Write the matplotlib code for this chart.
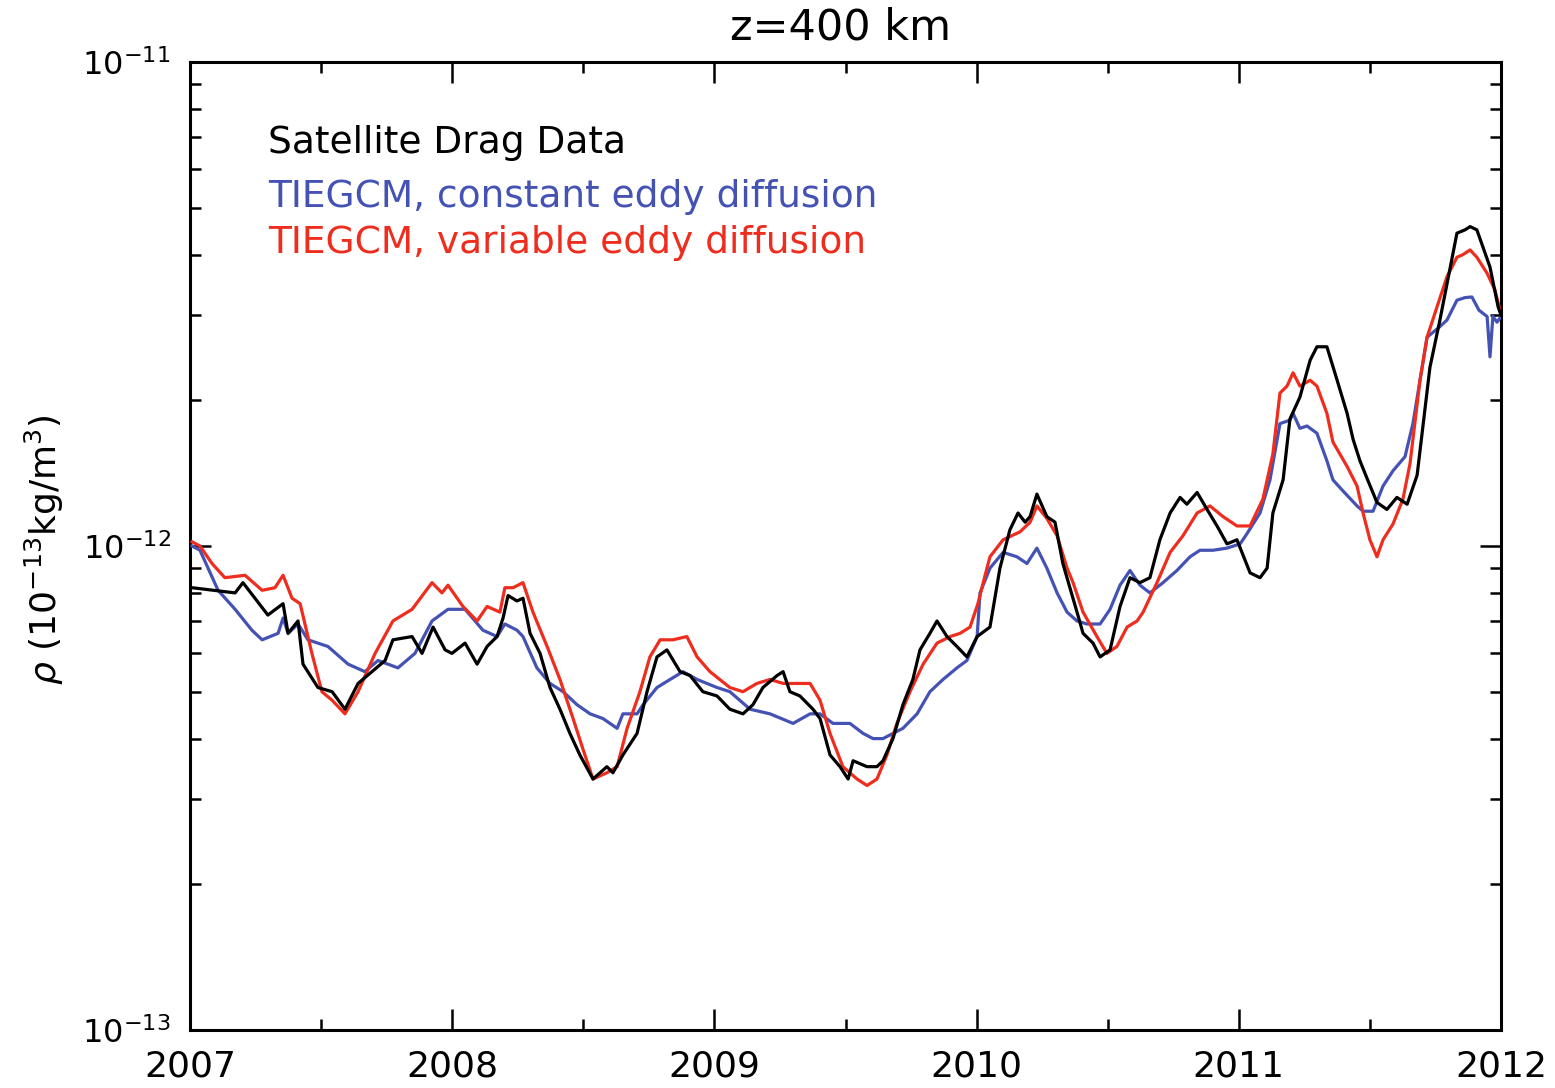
import matplotlib
matplotlib.use("Agg")
import matplotlib.pyplot as plt
from matplotlib.ticker import FixedLocator, MultipleLocator, LogFormatterSciNotation, NullFormatter

# ---- data ----
black_t = [2007.008, 2007.172, 2007.202, 2007.297, 2007.355, 2007.374, 2007.412, 2007.431, 2007.488,
           2007.542, 2007.591, 2007.641, 2007.694, 2007.744, 2007.774, 2007.847, 2007.885, 2007.927,
           2007.973, 2007.999, 2008.049, 2008.095, 2008.133, 2008.171, 2008.194, 2008.213, 2008.247,
           2008.270, 2008.297, 2008.335, 2008.373, 2008.411, 2008.449, 2008.487, 2008.537, 2008.590,
           2008.613, 2008.651, 2008.705, 2008.743, 2008.781, 2008.819, 2008.869, 2008.907, 2008.956,
           2009.010, 2009.059, 2009.109, 2009.147, 2009.185, 2009.239, 2009.262, 2009.288, 2009.326,
           2009.376, 2009.403, 2009.441, 2009.479, 2009.510, 2009.529, 2009.582, 2009.620, 2009.643,
           2009.681, 2009.719, 2009.757, 2009.784, 2009.822, 2009.849, 2009.887, 2009.925, 2009.963,
           2010.002, 2010.051, 2010.089, 2010.127, 2010.158, 2010.185, 2010.204, 2010.230, 2010.268,
           2010.299, 2010.329, 2010.356, 2010.383, 2010.406, 2010.444, 2010.471, 2010.509, 2010.547,
           2010.585, 2010.623, 2010.661, 2010.699, 2010.738, 2010.776, 2010.802, 2010.841, 2010.879,
           2010.917, 2010.955, 2010.993, 2011.043, 2011.081, 2011.108, 2011.130, 2011.169, 2011.195,
           2011.233, 2011.272, 2011.298, 2011.336, 2011.375, 2011.413, 2011.436, 2011.462, 2011.489,
           2011.527, 2011.565, 2011.603, 2011.642, 2011.680, 2011.729, 2011.767, 2011.832, 2011.863,
           2011.882, 2011.908, 2011.931, 2011.958, 2011.989, 2012.000]
black_v = [0.82, 0.80, 0.84, 0.72, 0.76, 0.66, 0.70, 0.57, 0.51,
           0.50, 0.46, 0.52, 0.55, 0.58, 0.64, 0.65, 0.60, 0.68,
           0.61, 0.60, 0.63, 0.57, 0.62, 0.65, 0.71, 0.79, 0.77,
           0.78, 0.66, 0.60, 0.51, 0.46, 0.41, 0.37, 0.33, 0.35,
           0.34, 0.37, 0.41, 0.50, 0.59, 0.61, 0.55, 0.54, 0.50,
           0.49, 0.46, 0.45, 0.47, 0.51, 0.54, 0.55, 0.50, 0.49,
           0.46, 0.44, 0.37, 0.35, 0.33, 0.36, 0.35, 0.35, 0.36,
           0.40, 0.47, 0.53, 0.61, 0.66, 0.70, 0.65, 0.62, 0.59,
           0.65, 0.68, 0.90, 1.08, 1.17, 1.12, 1.15, 1.28, 1.15,
           1.12, 0.92, 0.82, 0.73, 0.66, 0.63, 0.59, 0.61, 0.75,
           0.86, 0.84, 0.86, 1.03, 1.17, 1.26, 1.22, 1.29, 1.19,
           1.10, 1.01, 1.03, 0.88, 0.86, 0.90, 1.17, 1.37, 1.83,
           2.03, 2.42, 2.58, 2.58, 2.20, 1.88, 1.66, 1.50, 1.38,
           1.23, 1.19, 1.26, 1.22, 1.40, 2.34, 2.93, 4.43, 4.50,
           4.57, 4.50, 4.15, 3.77, 3.12, 3.00]

red_t = [2007.008, 2007.038, 2007.084, 2007.133, 2007.210, 2007.275, 2007.324, 2007.355, 2007.389,
         2007.420, 2007.465, 2007.503, 2007.542, 2007.591, 2007.641, 2007.706, 2007.774, 2007.847,
         2007.923, 2007.961, 2007.984, 2008.041, 2008.095, 2008.133, 2008.182, 2008.201, 2008.232,
         2008.270, 2008.308, 2008.362, 2008.411, 2008.461, 2008.499, 2008.537, 2008.590, 2008.629,
         2008.667, 2008.716, 2008.754, 2008.793, 2008.842, 2008.895, 2008.934, 2008.983, 2009.059,
         2009.109, 2009.162, 2009.212, 2009.262, 2009.315, 2009.365, 2009.403, 2009.441, 2009.490,
         2009.544, 2009.582, 2009.620, 2009.658, 2009.696, 2009.746, 2009.796, 2009.849, 2009.899,
         2009.937, 2009.975, 2010.005, 2010.030, 2010.051, 2010.101, 2010.166, 2010.204, 2010.230,
         2010.268, 2010.307, 2010.345, 2010.368, 2010.406, 2010.459, 2010.497, 2010.535, 2010.574,
         2010.612, 2010.635, 2010.688, 2010.738, 2010.787, 2010.841, 2010.890, 2010.940, 2010.993,
         2011.043, 2011.092, 2011.130, 2011.157, 2011.184, 2011.207, 2011.233, 2011.272, 2011.298,
         2011.336, 2011.359, 2011.413, 2011.451, 2011.474, 2011.500, 2011.527, 2011.550, 2011.588,
         2011.626, 2011.653, 2011.691, 2011.718, 2011.756, 2011.794, 2011.832, 2011.855, 2011.882,
         2011.908, 2011.947, 2011.977, 2011.996]
red_v = [1.02, 1.00, 0.92, 0.86, 0.87, 0.81, 0.82, 0.87, 0.78,
         0.76, 0.60, 0.50, 0.48, 0.45, 0.50, 0.60, 0.70, 0.74,
         0.84, 0.80, 0.83, 0.75, 0.70, 0.75, 0.73, 0.82, 0.82,
         0.84, 0.73, 0.62, 0.53, 0.44, 0.38, 0.33, 0.34, 0.35,
         0.42, 0.50, 0.59, 0.64, 0.64, 0.65, 0.59, 0.55, 0.51,
         0.50, 0.52, 0.53, 0.52, 0.52, 0.52, 0.48, 0.41, 0.35,
         0.33, 0.32, 0.33, 0.37, 0.43, 0.50, 0.57, 0.63, 0.65,
         0.66, 0.68, 0.76, 0.86, 0.95, 1.03, 1.07, 1.12, 1.21,
         1.14, 1.05, 0.90, 0.84, 0.73, 0.65, 0.60, 0.62, 0.68,
         0.70, 0.73, 0.84, 0.97, 1.05, 1.17, 1.21, 1.15, 1.10,
         1.10, 1.25, 1.55, 2.07, 2.14, 2.28, 2.14, 2.20, 2.14,
         1.88, 1.64, 1.46, 1.33, 1.17, 1.03, 0.95, 1.03, 1.11,
         1.25, 1.48, 2.20, 2.70, 3.12, 3.60, 3.95, 4.00, 4.09,
         3.95, 3.66, 3.38, 3.07]

blue_t = [2007.008, 2007.038, 2007.107, 2007.172, 2007.236, 2007.275, 2007.336, 2007.355, 2007.374,
          2007.412, 2007.450, 2007.526, 2007.603, 2007.667, 2007.717, 2007.793, 2007.858, 2007.923,
          2007.984, 2008.049, 2008.117, 2008.171, 2008.201, 2008.247, 2008.270, 2008.323, 2008.373,
          2008.423, 2008.476, 2008.526, 2008.575, 2008.629, 2008.651, 2008.705, 2008.728, 2008.781,
          2008.831, 2008.880, 2008.934, 2009.010, 2009.059, 2009.136, 2009.212, 2009.300, 2009.365,
          2009.403, 2009.452, 2009.517, 2009.567, 2009.605, 2009.643, 2009.681, 2009.719, 2009.773,
          2009.822, 2009.872, 2009.925, 2009.963, 2010.002, 2010.013, 2010.051, 2010.101, 2010.154,
          2010.192, 2010.230, 2010.268, 2010.307, 2010.345, 2010.383, 2010.421, 2010.471, 2010.509,
          2010.547, 2010.585, 2010.623, 2010.661, 2010.711, 2010.764, 2010.814, 2010.852, 2010.902,
          2010.955, 2011.005, 2011.031, 2011.081, 2011.119, 2011.157, 2011.195, 2011.207, 2011.233,
          2011.260, 2011.298, 2011.336, 2011.359, 2011.397, 2011.451, 2011.474, 2011.512, 2011.550,
          2011.588, 2011.634, 2011.664, 2011.718, 2011.767, 2011.794, 2011.832, 2011.863, 2011.889,
          2011.916, 2011.947, 2011.958, 2011.969, 2011.985, 2012.000]
blue_v = [1.00, 0.98, 0.81, 0.74, 0.67, 0.64, 0.66, 0.71, 0.66,
          0.69, 0.64, 0.62, 0.57, 0.55, 0.58, 0.56, 0.60, 0.70,
          0.74, 0.74, 0.67, 0.65, 0.69, 0.67, 0.65, 0.56, 0.52,
          0.50, 0.47, 0.45, 0.44, 0.42, 0.45, 0.45, 0.47, 0.51,
          0.53, 0.55, 0.53, 0.51, 0.50, 0.46, 0.45, 0.43, 0.45,
          0.45, 0.43, 0.43, 0.41, 0.40, 0.40, 0.41, 0.42, 0.45,
          0.50, 0.53, 0.56, 0.58, 0.65, 0.80, 0.90, 0.97, 0.95,
          0.92, 0.99, 0.90, 0.80, 0.73, 0.70, 0.69, 0.69, 0.74,
          0.83, 0.89, 0.83, 0.80, 0.84, 0.89, 0.95, 0.98, 0.98,
          0.99, 1.01, 1.06, 1.17, 1.37, 1.79, 1.82, 1.88, 1.75,
          1.77, 1.71, 1.50, 1.37, 1.30, 1.21, 1.18, 1.18, 1.33,
          1.43, 1.53, 1.79, 2.70, 2.84, 2.93, 3.22, 3.26, 3.27,
          3.07, 2.98, 2.46, 2.98, 2.90, 2.98]

title = "z=400 km"
legend_labels = ["Satellite Drag Data",
                 "TIEGCM, constant eddy diffusion",
                 "TIEGCM, variable eddy diffusion"]
ylabel = r"$\rho$ (10$^{-13}$kg/m$^3$)"
year_ticks = [2007, 2008, 2009, 2010, 2011, 2012]
y_major = [1e-13, 1e-12, 1e-11]

BLACK = "#000000"
BLUE = "#4452b4"
RED = "#ee2d1e"

plt.rcParams['font.family'] = ['DejaVu Sans']

fig = plt.figure(figsize=(15.55, 10.88), dpi=100)
ax = fig.add_axes([190/1555, 1-1030/1088, 1311/1555, 968/1088])

scale = 1e-12
ax.plot(blue_t, [v*scale for v in blue_v], color=BLUE, lw=2.3, zorder=3)
ax.plot(red_t, [v*scale for v in red_v], color=RED, lw=2.3, zorder=4)
ax.plot(black_t, [v*scale for v in black_v], color=BLACK, lw=2.3, zorder=5)

ax.set_yscale('log')
ax.set_ylim(1e-13, 1e-11)
ax.set_xlim(2007, 2012)

ax.set_xticks(year_ticks)
ax.set_xticklabels([str(y) for y in year_ticks])
ax.xaxis.set_minor_locator(MultipleLocator(0.5))
ax.yaxis.set_major_locator(FixedLocator(y_major))
y_minor = [m * d for d in y_major[:-1] for m in range(2, 10)]
ax.yaxis.set_minor_locator(FixedLocator(y_minor))
ax.yaxis.set_major_formatter(LogFormatterSciNotation())
ax.yaxis.set_minor_formatter(NullFormatter())

ax.tick_params(which='both', direction='in', top=True, right=True, width=1.8)
ax.tick_params(which='major', length=15)
ax.tick_params(which='minor', length=8)
ax.tick_params(axis='x', which='major', labelsize=26, pad=14)
ax.tick_params(axis='y', which='major', labelsize=23, pad=14)
for s in ax.spines.values():
    s.set_linewidth(2.2)

fig.text(44/1555, 1-550/1088, ylabel, fontsize=26, rotation=90, ha='center', va='center')

fig.text(841/1555, 1-28/1088, title, ha='center', va='center', fontsize=31)

cols = [BLACK, BLUE, RED]
ys = [143, 197, 243]
for lab, c, yy in zip(legend_labels, cols, ys):
    fig.text(268/1555, 1-yy/1088, lab, color=c, fontsize=27, ha='left', va='center')

fig.savefig("out.png", dpi=100)
